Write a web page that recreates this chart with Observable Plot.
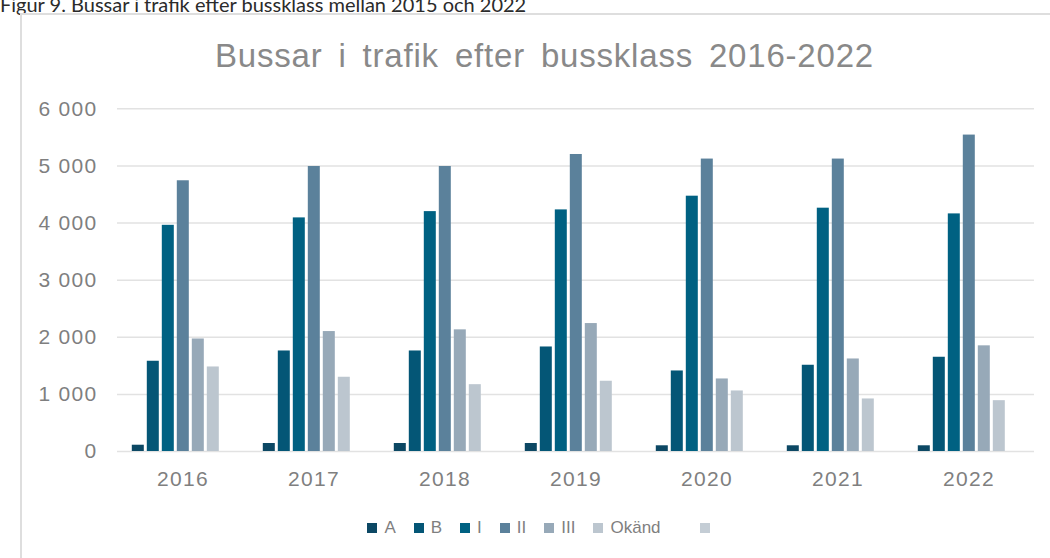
<!DOCTYPE html>
<html>
<head>
<meta charset="utf-8">
<script src="https://cdn.jsdelivr.net/npm/d3@7"></script>
<script src="https://cdn.jsdelivr.net/npm/@observablehq/plot@0.6"></script>
<style>
  html, body { margin: 0; padding: 0; background: #fff; width: 1050px; height: 558px; overflow: hidden; position: relative; }
  #caption { position: absolute; left: 0; top: -6px; font-family: Lato, "Open Sans", sans-serif; font-size: 20px; line-height: 20px; color: #2b2b2b; white-space: nowrap; }
  #box { position: absolute; left: 20px; top: 13px; width: 1100px; height: 600px; border-left: 2px solid #dedede; border-top: 2px solid #dedede; }
  #title { position: absolute; left: 0; top: 39px; width: 1089px; text-align: center; font-family: "Liberation Sans", Arial, sans-serif; font-size: 33px; line-height: 33px; letter-spacing: 0.8px; word-spacing: 6px; color: #898989; white-space: nowrap; }
  #chart { position: absolute; left: 0; top: 60px; }
  #legend { position: absolute; left: 0; top: 518px; width: 1084px; display: flex; justify-content: center; align-items: center; font-family: "Liberation Sans", Arial, sans-serif; font-size: 17px; line-height: 20px; color: #7f7f7f; }
  .item { display: flex; align-items: center; margin: 0 9px; }
  .sw { display: inline-block; width: 10px; height: 10px; margin-right: 7px; }
</style>
</head>
<body>
<div id="caption">Figur 9. Bussar i trafik efter bussklass mellan 2015 och 2022</div>
<div id="box"></div>
<div id="title">Bussar i trafik efter bussklass 2016-2022</div>
<div id="chart"></div>
<div id="legend"></div>
<script>
const years = ["2016", "2017", "2018", "2019", "2020", "2021", "2022"];
const series = ["A", "B", "I", "II", "III", "Okänd", " "];
const colors = ["#0c4864", "#045676", "#006182", "#5b819b", "#97a9b8", "#bcc6cf", "#c4cdd5"];

const valuesA = [110, 140, 140, 140, 100, 100, 100];
const valuesB = [1580, 1760, 1760, 1830, 1410, 1510, 1650];
const valuesI = [3960, 4090, 4200, 4230, 4470, 4260, 4160];
const valuesII = [4740, 4990, 4990, 5200, 5120, 5120, 5540];
const valuesIII = [1970, 2100, 2130, 2240, 1270, 1620, 1850];
const valuesOkand = [1480, 1300, 1170, 1230, 1060, 920, 890];

const yTicks = [0, 1000, 2000, 3000, 4000, 5000, 6000];

const seriesValues = [
  ["A", valuesA], ["B", valuesB], ["I", valuesI], ["II", valuesII],
  ["III", valuesIII], ["Okänd", valuesOkand]
];
const rows = years.flatMap((yr, i) => seriesValues.map(([name, vals]) => ({year: yr, series: name, value: vals[i]})));

const fmt = v => d3.format(",")(v).replace(/,/g, "\u00a0");

const chart = Plot.plot({
  width: 1050,
  height: 440,
  marginTop: 48.3,
  marginBottom: 49,
  marginLeft: 116.7,
  marginRight: 15,
  facet: {data: rows, x: "year"},
  fx: {domain: years, padding: 0, axis: "bottom", label: null, tickSize: 0, tickPadding: 20},
  x: {domain: series, paddingInner: 0, paddingOuter: 0.77, axis: null},
  y: {domain: [0, 6000], ticks: yTicks, tickFormat: fmt, tickSize: 0, tickPadding: 20, label: null},
  color: {domain: series, range: colors},
  style: {fontFamily: "'Liberation Sans', Arial, sans-serif", fontSize: "21px", letterSpacing: "1.3px", color: "#7f7f7f", background: "transparent", overflow: "visible"},
  marks: [
    Plot.ruleY(yTicks, {stroke: "#e2e2e2", strokeWidth: 1.5}),
    Plot.barY(rows, {x: "series", y: "value", fill: "series", insetLeft: 1.5, insetRight: 1.5})
  ]
});
document.getElementById("chart").appendChild(chart);

const legend = document.getElementById("legend");
series.forEach((s, i) => {
  const item = document.createElement("div");
  item.className = "item";
  if (s.trim() === "") item.style.marginLeft = "30px";
  const sw = document.createElement("span");
  sw.className = "sw";
  sw.style.background = colors[i];
  const lab = document.createElement("span");
  lab.textContent = s;
  item.appendChild(sw);
  item.appendChild(lab);
  legend.appendChild(item);
});
</script>
</body>
</html>
